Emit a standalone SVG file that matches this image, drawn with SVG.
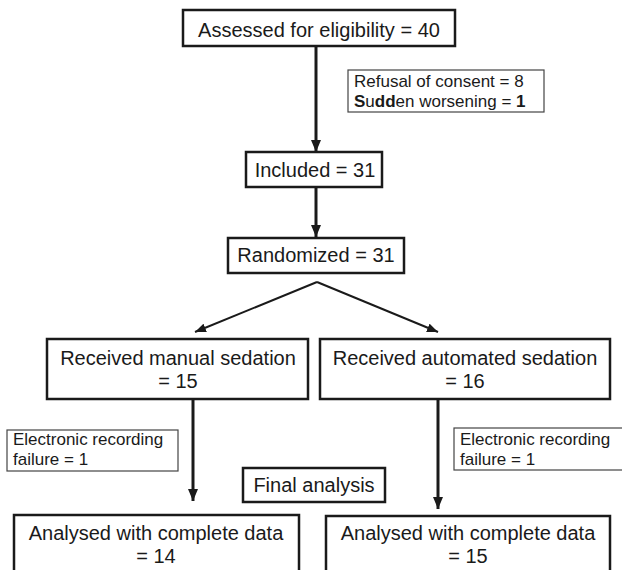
<svg xmlns="http://www.w3.org/2000/svg" width="622" height="570" viewBox="0 0 622 570">
<style>
.box{fill:#fff;stroke:#1a1a1a;stroke-width:2.5}
.sbox{fill:#fff;stroke:#444;stroke-width:1.2}
.t{font-family:"Liberation Sans",Arial,Helvetica,sans-serif;font-size:20px;fill:#1a1a1a}
.s{font-family:"Liberation Sans",Arial,Helvetica,sans-serif;font-size:17px;fill:#1a1a1a}
.mid{text-anchor:middle}
.thick{stroke:#1a1a1a;stroke-width:3;fill:none}
.thin{stroke:#1a1a1a;stroke-width:2;fill:none}
</style>
<defs>
<marker id="ah" markerUnits="userSpaceOnUse" markerWidth="12" markerHeight="10" refX="12" refY="5" orient="auto">
<path d="M0,0 L12,5 L0,10 z" fill="#1a1a1a"/>
</marker>
<marker id="ahs" markerUnits="userSpaceOnUse" markerWidth="11" markerHeight="9" refX="11" refY="4.5" orient="auto">
<path d="M0,0 L11,4.5 L0,9 z" fill="#1a1a1a"/>
</marker>
</defs>
<rect width="622" height="570" fill="#fff"/>
<g id="connectors">
<line class="thick" x1="316" y1="46" x2="316" y2="152" marker-end="url(#ah)"/>
<line class="thick" x1="316" y1="188" x2="316" y2="237" marker-end="url(#ah)"/>
<line class="thin" x1="317" y1="282" x2="195" y2="332" marker-end="url(#ahs)"/>
<line class="thin" x1="317" y1="282" x2="438" y2="332" marker-end="url(#ahs)"/>
<line class="thick" x1="193" y1="399" x2="193" y2="501" marker-end="url(#ah)"/>
<line class="thick" x1="438" y1="399" x2="438" y2="509" marker-end="url(#ah)"/>
</g>
<g id="assessed">
<rect class="box" x="183" y="10" width="272" height="36"/>
<text class="t mid" x="319" y="37">Assessed for eligibility = 40</text>
</g>
<g id="excluded">
<rect class="sbox" x="348" y="70" width="196" height="42"/>
<text class="s" x="354" y="87">Refusal of consent = 8</text>
<text class="s" x="354" y="107"><tspan font-weight="bold">S</tspan>u<tspan font-weight="bold">dd</tspan>en worsening = <tspan font-weight="bold">1</tspan></text>
</g>
<g id="included">
<rect class="box" x="246" y="152" width="136" height="35"/>
<text class="t mid" x="315" y="177">Included = 31</text>
</g>
<g id="randomized">
<rect class="box" x="228" y="238" width="176" height="35"/>
<text class="t mid" x="316" y="262">Randomized = 31</text>
</g>
<g id="manual">
<rect class="box" x="47" y="339" width="261" height="60"/>
<text class="t mid" x="178" y="365">Received manual sedation</text>
<text class="t mid" x="178" y="388">= 15</text>
</g>
<g id="automated">
<rect class="box" x="320" y="339" width="290" height="60"/>
<text class="t mid" x="465" y="365">Received automated sedation</text>
<text class="t mid" x="465" y="388">= 16</text>
</g>
<g id="failure-left">
<rect class="sbox" x="7" y="430" width="171" height="41"/>
<text class="s" x="13" y="445">Electronic recording</text>
<text class="s" x="13" y="465">failure = 1</text>
</g>
<g id="failure-right">
<rect class="sbox" x="454" y="428" width="180" height="42"/>
<text class="s" x="460" y="445">Electronic recording</text>
<text class="s" x="460" y="465">failure = 1</text>
</g>
<g id="final">
<rect class="box" x="243" y="468" width="142" height="34"/>
<text class="t mid" x="314" y="492">Final analysis</text>
</g>
<g id="analysed-left">
<rect class="box" x="14" y="515" width="285" height="70"/>
<text class="t mid" x="156" y="540">Analysed with complete data</text>
<text class="t mid" x="156" y="563">= 14</text>
</g>
<g id="analysed-right">
<rect class="box" x="326" y="516" width="284" height="70"/>
<text class="t mid" x="468" y="540">Analysed with complete data</text>
<text class="t mid" x="468" y="563">= 15</text>
</g>
</svg>
